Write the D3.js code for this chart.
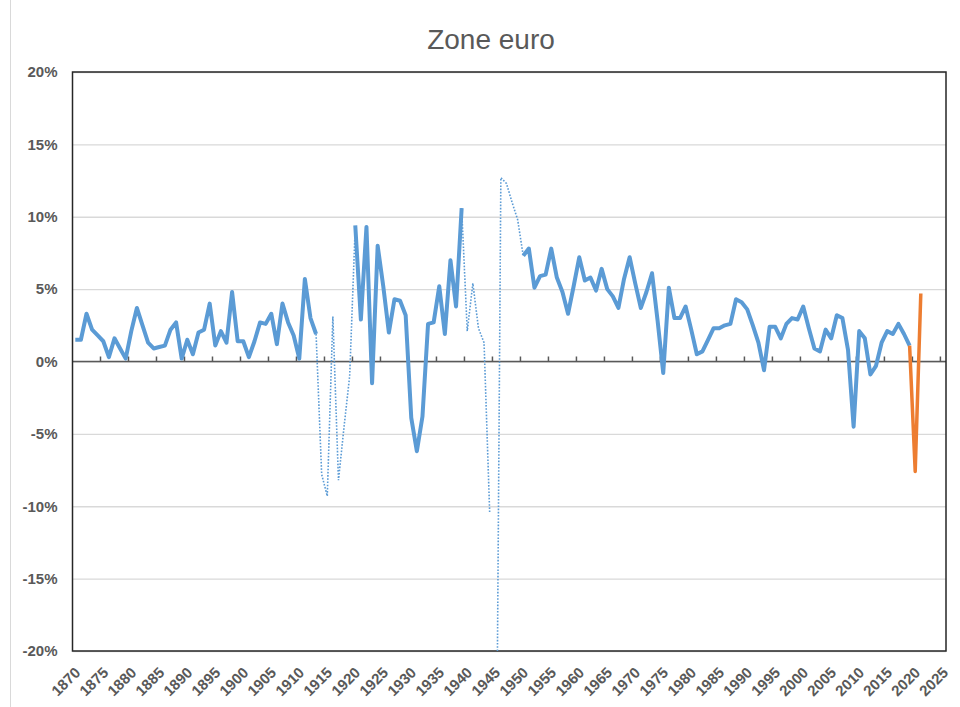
<!DOCTYPE html>
<html>
<head>
<meta charset="utf-8">
<script src="https://cdn.jsdelivr.net/npm/d3@7"></script>
<style>
  body { margin: 0; background: #fff; }
  text { font-family: "Liberation Sans", Arial, sans-serif; }
</style>
</head>
<body>
<script>
// --- data: real GDP growth, euro area (%) ---
const axisYears = d3.range(1870, 2026);
const xTickYears = [1870, 1875, 1880, 1885, 1890, 1895, 1900, 1905, 1910, 1915,
  1920, 1925, 1930, 1935, 1940, 1945, 1950, 1955, 1960, 1965, 1970, 1975, 1980,
  1985, 1990, 1995, 2000, 2005, 2010, 2015, 2020, 2025];
const yTicks = [-20, -15, -10, -5, 0, 5, 10, 15, 20];

// 1870 .. 2019, null = war years (drawn dotted)
const growthStart = 1870;
const growth = [
  1.5, 1.5, 3.3, 2.2, 1.8, 1.4, 0.3, 1.6, 0.9, 0.2,          // 1870s
  2.1, 3.7, 2.5, 1.3, 0.9, 1.0, 1.1, 2.2, 2.7, 0.2,          // 1880s
  1.5, 0.5, 2.0, 2.2, 4.0, 1.1, 2.1, 1.3, 4.8, 1.4,          // 1890s
  1.4, 0.3, 1.4, 2.7, 2.6, 3.3, 1.2, 4.0, 2.7, 1.8,          // 1900s
  0.2, 5.7, 3.0, 1.9, null, null, null, null, null, null,    // 1910s
  9.4, 2.9, 9.3, -1.5, 8.0, 5.2, 2.0, 4.3, 4.2, 3.2,         // 1920s
  -3.9, -6.2, -3.8, 2.6, 2.7, 5.2, 1.9, 7.0, 3.8, 10.6,      // 1930s
  null, null, null, null, null, null, null, null, null, null,// 1940s
  7.3, 7.8, 5.1, 5.9, 6.0, 7.8, 5.8, 4.8, 3.3, 5.2,          // 1950s
  7.2, 5.6, 5.8, 4.9, 6.4, 5.0, 4.5, 3.7, 5.7, 7.2,          // 1960s
  5.4, 3.7, 4.8, 6.1, 2.8, -0.8, 5.1, 3.0, 3.0, 3.8,         // 1970s
  2.2, 0.5, 0.7, 1.5, 2.3, 2.3, 2.5, 2.6, 4.3, 4.1,          // 1980s
  3.6, 2.5, 1.3, -0.6, 2.4, 2.4, 1.6, 2.6, 3.0, 2.9,         // 1990s
  3.8, 2.3, 0.9, 0.7, 2.2, 1.6, 3.2, 3.0, 0.8, -4.5,         // 2000s
  2.1, 1.6, -0.9, -0.3, 1.3, 2.1, 1.9, 2.6, 1.9, 1.1         // 2010s
];

// war years, dotted (1945 falls far below the axis)
const ww1Years = [1913, 1914, 1915, 1916, 1917, 1918, 1919, 1920];
const ww1Growth = [1.9, -7.8, -9.3, 3.1, -8.2, -4.5, -1.0, 9.4];

const ww2Years = [1939, 1940, 1941, 1942, 1943, 1944];
const ww2Growth = [10.6, 2.1, 5.4, 2.3, 1.3, -10.4];

const postWarYears = [1945, 1946, 1947, 1948, 1949, 1950];
const postWarGrowth = [-41.0, 12.7, 12.3, 11.0, 9.8, 7.3];

const recentYears = [2019, 2020, 2021];
const recentGrowth = [1.1, -7.6, 4.7];

// --- frame ---
const W = 960, H = 707;
const pLeft = 72.5, pRight = 946, pTop = 72, pBottom = 651;

const svg = d3.select("body").append("svg")
  .attr("width", W).attr("height", H);

// faint chart-area edge
svg.append("line")
  .attr("x1", 10.5).attr("x2", 10.5).attr("y1", 0).attr("y2", H)
  .attr("stroke", "#d9d9d9").attr("stroke-width", 1);

const x = d3.scaleBand().domain(axisYears).range([pLeft, pRight]);
const cx = yr => x(yr) + x.bandwidth() / 2;
const y = d3.scaleLinear().domain([-20, 20]).range([pBottom, pTop]);

svg.append("defs").append("clipPath").attr("id", "plot")
  .append("rect")
  .attr("x", pLeft).attr("y", pTop)
  .attr("width", pRight - pLeft).attr("height", pBottom - pTop);

// --- title ---
svg.append("text")
  .attr("x", 491).attr("y", 49)
  .attr("text-anchor", "middle")
  .style("font-size", "28px")
  .style("fill", "#595959")
  .text("Zone euro");

// --- gridlines + y labels ---
const gy = svg.append("g")
  .attr("transform", `translate(${pLeft},0)`)
  .call(d3.axisLeft(y).tickValues(yTicks).tickSize(-(pRight - pLeft))
    .tickFormat(d => d + "%"));
gy.select(".domain").remove();
gy.selectAll(".tick line").attr("stroke", "#d9d9d9").attr("stroke-width", 1.3);
gy.selectAll(".tick text")
  .attr("x", -15)
  .style("font-size", "15px")
  .style("font-weight", "bold")
  .style("fill", "#595959");

// --- x labels (rotated, under the plot) ---
const gx = svg.append("g")
  .attr("transform", `translate(0,${pBottom})`)
  .call(d3.axisBottom(x).tickValues(xTickYears).tickSize(0));
gx.select(".domain").remove();
gx.selectAll(".tick text")
  .attr("x", 0).attr("y", 0).attr("dy", 0)
  .attr("text-anchor", "end")
  .attr("transform", "translate(6,22.5) rotate(-45)")
  .style("font-size", "15px")
  .style("font-weight", "bold")
  .style("fill", "#595959");

// --- zero axis with inside ticks ---
svg.append("line")
  .attr("x1", pLeft).attr("x2", pRight)
  .attr("y1", y(0)).attr("y2", y(0))
  .attr("stroke", "#595959").attr("stroke-width", 1.5);
svg.append("g").selectAll("line")
  .data(xTickYears.slice(1))
  .enter().append("line")
    .attr("x1", d => x(d)).attr("x2", d => x(d))
    .attr("y1", y(0) - 5).attr("y2", y(0))
    .attr("stroke", "#595959").attr("stroke-width", 1.5);

// --- plot border ---
svg.append("rect")
  .attr("x", pLeft).attr("y", pTop)
  .attr("width", pRight - pLeft).attr("height", pBottom - pTop)
  .attr("fill", "none").attr("stroke", "#262626").attr("stroke-width", 1.5);

// --- series ---
const line = d3.line()
  .defined(d => d.v !== null)
  .x(d => cx(d.year))
  .y(d => y(d.v));

const plot = svg.append("g").attr("clip-path", "url(#plot)");

const zipSeries = (yrs, vals) => yrs.map((yr, i) => ({year: yr, v: vals[i]}));

[zipSeries(ww1Years, ww1Growth),
 zipSeries(ww2Years, ww2Growth),
 zipSeries(postWarYears, postWarGrowth)].forEach(s => {
  plot.append("path")
    .datum(s)
    .attr("d", line)
    .attr("fill", "none")
    .attr("stroke", "#5b9bd5")
    .attr("stroke-width", 1.6)
    .attr("stroke-dasharray", "1.6 1.6");
});

plot.append("path")
  .datum(growth.map((v, i) => ({year: growthStart + i, v: v})))
  .attr("d", line)
  .attr("fill", "none")
  .attr("stroke", "#5b9bd5")
  .attr("stroke-width", 4)
  .attr("stroke-linejoin", "round");

plot.append("path")
  .datum(zipSeries(recentYears, recentGrowth))
  .attr("d", line)
  .attr("fill", "none")
  .attr("stroke", "#ed7d31")
  .attr("stroke-width", 3.5)
  .attr("stroke-linejoin", "round");
</script>
</body>
</html>
